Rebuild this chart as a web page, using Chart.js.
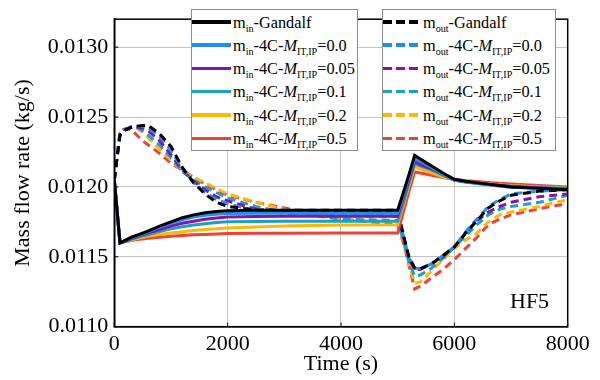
<!DOCTYPE html>
<html>
<head>
<meta charset="utf-8">
<script src="https://cdn.jsdelivr.net/npm/chart.js@4/dist/chart.umd.min.js"></script>
<style>
  html, body { margin: 0; padding: 0; background: #fff; }
  #wrap { position: relative; width: 600px; height: 380px; }
  #c { position: absolute; left: 0; top: 0; }
  .lbox { position: absolute; top: 9px; height: 142px; border: 1px solid #8c8c8c; background: #fff; box-sizing: border-box; }
  .row { position: absolute; left: 0; height: 23.33px; width: 100%; }
  .smp { position: absolute; top: 10px; height: 3.5px; }
  .txt { position: absolute; top: 0.5px; line-height: 23.33px; font-family: 'Liberation Serif', serif; font-size: 16.3px; color: #000; white-space: nowrap; }
  .txt sub { font-size: 0.62em; vertical-align: -0.35em; line-height: 0; }
  #hf5 { position: absolute; left: 510px; top: 288px; font-family: 'Liberation Serif', serif; font-size: 22px; color: #000; }
</style>
</head>
<body>
<div id="wrap">
  <canvas id="c" width="600" height="380"></canvas>
  <div class="lbox" id="legIn" style="left:191px; width:167px;"></div>
  <div class="lbox" id="legOut" style="left:382px; width:174px;"></div>
  <div id="hf5">HF5</div>
</div>
<script>
// ---- data ----
const times = [0,100,200,300,400,500,600,800,1000,1200,1400,1600,1800,2000,2500,3000,4000,5000,5100,5200,5300,5400,5600,5800,6000,6200,6400,6600,6800,7000,7500,8000];

const inGandalf = [0.01205,0.01160,0.01162,0.01164,0.011655,0.01167,0.011685,0.01172,0.01175,0.01178,0.01180,0.011815,0.011825,0.01183,0.011833,0.011833,0.011833,0.011833,0.01196,0.01209,0.012226,0.01220,0.01215,0.01210,0.012055,0.01204,0.01203,0.01202,0.01201,0.01200,0.01199,0.01198];
const in00 = [0.01205,0.01160,0.01162,0.011635,0.01165,0.011665,0.01168,0.01171,0.01174,0.011765,0.011785,0.011797,0.011805,0.01181,0.011812,0.011812,0.011812,0.011812,0.01194,0.01207,0.012203,0.01218,0.01214,0.01209,0.01205,0.012035,0.012025,0.012015,0.012005,0.011998,0.01199,0.011982];
const in005 = [0.01205,0.01160,0.011615,0.01163,0.011645,0.01166,0.011672,0.011695,0.01172,0.01174,0.011755,0.011768,0.011778,0.011785,0.011788,0.01179,0.01179,0.01179,0.01192,0.01205,0.012186,0.01216,0.01213,0.01209,0.01205,0.012035,0.012027,0.012018,0.01201,0.012003,0.011993,0.011986];
const in01 = [0.01205,0.01160,0.01161,0.011625,0.011638,0.01165,0.01166,0.01168,0.01170,0.011715,0.011727,0.011737,0.011745,0.01175,0.011753,0.011755,0.011755,0.011755,0.01189,0.01203,0.012167,0.01215,0.01212,0.012085,0.01205,0.012037,0.012028,0.01202,0.012012,0.012006,0.011996,0.01199];
const in02 = [0.01205,0.01160,0.01161,0.01162,0.01163,0.01164,0.011648,0.01166,0.01167,0.01168,0.011688,0.011695,0.01170,0.011707,0.011714,0.01172,0.011727,0.01173,0.01187,0.01201,0.012143,0.01213,0.01210,0.01207,0.01205,0.012038,0.01203,0.012023,0.012016,0.01201,0.01200,0.011994];
const in05 = [0.01205,0.01160,0.01161,0.011617,0.011623,0.011628,0.011633,0.01164,0.011647,0.011652,0.011657,0.01166,0.011663,0.011667,0.011668,0.011669,0.01167,0.01167,0.01182,0.01197,0.012107,0.01210,0.012083,0.012068,0.012055,0.012045,0.012038,0.012032,0.012026,0.012021,0.01201,0.01200];

const outGandalf = [0.01205,0.01237,0.01241,0.012425,0.012435,0.01244,0.01244,0.01238,0.01229,0.01214,0.01203,0.01195,0.01189,0.01186,0.011835,0.011833,0.011833,0.011833,0.01166,0.01150,0.01142,0.011415,0.01145,0.01151,0.01157,0.01167,0.01176,0.01185,0.01190,0.01194,0.01197,0.01198];
const out00 = [0.01205,0.01238,0.01241,0.01243,0.012435,0.012435,0.01242,0.01236,0.01226,0.01213,0.01203,0.01196,0.01191,0.01188,0.01183,0.011815,0.011812,0.011812,0.01165,0.01149,0.01142,0.011415,0.01145,0.01151,0.01157,0.01168,0.01177,0.01186,0.01191,0.01195,0.01197,0.01198];
const out005 = [0.01205,0.01238,0.01241,0.01243,0.01243,0.01242,0.01240,0.01233,0.01223,0.01212,0.01204,0.01198,0.01193,0.01190,0.01184,0.01181,0.011795,0.01179,0.01164,0.01148,0.01141,0.01141,0.01145,0.01150,0.01157,0.01167,0.01176,0.01182,0.01186,0.01189,0.01193,0.01195];
const out01 = [0.01205,0.01238,0.01241,0.01243,0.012425,0.01240,0.01237,0.01230,0.01221,0.01211,0.01205,0.01200,0.01196,0.01192,0.01186,0.01182,0.01177,0.01176,0.01162,0.01146,0.01136,0.01137,0.01142,0.01149,0.01157,0.01165,0.01173,0.01180,0.01184,0.01186,0.01189,0.01194];
const out02 = [0.01205,0.01238,0.01241,0.01243,0.01242,0.01239,0.01235,0.01227,0.01219,0.01211,0.01207,0.01203,0.01199,0.01195,0.01189,0.01184,0.01177,0.01175,0.01161,0.01145,0.01131,0.01132,0.01140,0.01148,0.01156,0.01162,0.01167,0.01175,0.01180,0.01182,0.01186,0.01191];
const out05 = [0.01205,0.01240,0.012417,0.01241,0.01237,0.01233,0.01230,0.01224,0.01217,0.01212,0.01207,0.01202,0.01198,0.01194,0.01189,0.01185,0.01177,0.01173,0.01160,0.01144,0.01127,0.01129,0.01135,0.01141,0.01148,0.01156,0.01164,0.01173,0.01177,0.01180,0.011845,0.01188];

const caseNames = ['Gandalf', '0.0', '0.05', '0.1', '0.2', '0.5'];
const colors = ['#000000', '#1e8ef0', '#8a12a8', '#1aa2c4', '#ffb700', '#ee4233'];
const xTicks = [0, 2000, 4000, 6000, 8000];
const yTicks = [0.0110, 0.0115, 0.0120, 0.0125, 0.0130];
const inSeries = [inGandalf, in00, in005, in01, in02, in05];
const outSeries = [outGandalf, out00, out005, out01, out02, out05];

const FONT = "'Liberation Serif', serif";

function buildChart() {
  const datasets = [];
  inSeries.forEach((arr, k) => datasets.push({
    label: 'm_in-' + caseNames[k],
    data: times.map((t, i) => ({ x: t, y: arr[i] })),
    borderColor: colors[k], borderWidth: 3, pointRadius: 0, tension: 0, fill: false
  }));
  outSeries.forEach((arr, k) => datasets.push({
    label: 'm_out-' + caseNames[k],
    data: times.map((t, i) => ({ x: t, y: arr[i] })),
    borderColor: colors[k], borderWidth: 3, borderDash: [8, 5], pointRadius: 0, tension: 0, fill: false
  }));

  const framePlugin = {
    id: 'frame',
    afterDraw(chart) {
      const { ctx, chartArea: a, scales } = chart;
      ctx.save();
      ctx.strokeStyle = '#000';
      ctx.lineWidth = 1.5;
      ctx.strokeRect(a.left, a.top, a.right - a.left, a.bottom - a.top);
      ctx.lineWidth = 1;
      ctx.beginPath();
      xTicks.forEach(v => { const p = scales.x.getPixelForValue(v); ctx.moveTo(p, a.bottom); ctx.lineTo(p, a.bottom - 4); });
      yTicks.forEach(v => { const p = scales.y.getPixelForValue(v); ctx.moveTo(a.left, p); ctx.lineTo(a.left + 4, p); });
      ctx.stroke();
      ctx.restore();
    }
  };

  new Chart(document.getElementById('c'), {
    type: 'line',
    data: { datasets },
    options: {
      responsive: false,
      animation: false,
      events: [],
      layout: { padding: { left: 0, top: 18.3, right: 32.3, bottom: 0 } },
      plugins: { legend: { display: false }, tooltip: { enabled: false } },
      scales: {
        x: {
          type: 'linear', min: 0, max: 8000,
          afterBuildTicks: s => { s.ticks = xTicks.map(v => ({ value: v })); },
          afterFit: s => { s.height = 53.3; },
          grid: { color: '#c4c4c4', borderDash: [1, 2], drawTicks: false, lineWidth: 1 },
          border: { display: true, color: '#000', width: 1.5 },
          ticks: { padding: 4, color: '#000', font: { family: FONT, size: 22 }, callback: v => String(v), maxRotation: 0 },
          title: { display: true, text: 'Time (s)', color: '#000', font: { family: FONT, size: 22 }, padding: { top: 0, bottom: 2.5 } }
        },
        y: {
          type: 'linear', min: 0.0110, max: 0.0132,
          afterBuildTicks: s => { s.ticks = yTicks.map(v => ({ value: v })); },
          afterFit: s => { s.width = 114.3; },
          grid: { color: '#c4c4c4', borderDash: [1, 2], drawTicks: false, lineWidth: 1 },
          border: { display: true, color: '#000', width: 1.5 },
          ticks: { padding: 6, color: '#000', font: { family: FONT, size: 22 }, callback: v => Number(v).toFixed(4) },
          title: { display: true, text: 'Mass flow rate (kg/s)', color: '#000', font: { family: FONT, size: 22 }, padding: { top: 10, bottom: 0 } }
        }
      }
    },
    plugins: [framePlugin]
  });
}

// ---- legends (HTML text) ----
function buildLegend(id, sub, dashed, textLeft, smpWidth) {
  const box = document.getElementById(id);
  caseNames.forEach((name, k) => {
    const row = document.createElement('div');
    row.className = 'row';
    row.style.top = (k * 23.33) + 'px';
    const smp = document.createElement('div');
    smp.className = 'smp';
    smp.style.left = '0px';
    smp.style.width = smpWidth + 'px';
    smp.style.background = dashed
      ? 'repeating-linear-gradient(90deg, ' + colors[k] + ' 0 9px, transparent 9px 13px)'
      : colors[k];
    const txt = document.createElement('div');
    txt.className = 'txt';
    txt.style.left = textLeft + 'px';
    txt.innerHTML = k === 0
      ? 'm<sub>' + sub + '</sub>-Gandalf'
      : 'm<sub>' + sub + '</sub>-4C-<i>M</i><sub>IT,IP</sub>=' + name;
    row.appendChild(smp);
    row.appendChild(txt);
    box.appendChild(row);
  });
}
buildLegend('legIn', 'in', false, 41, 39);
buildLegend('legOut', 'out', true, 40, 35);

Promise.all([
  document.fonts.load("22px 'Liberation Serif'"),
  document.fonts.load("italic 16px 'Liberation Serif'")
]).catch(() => {}).then(buildChart);
</script>
</body>
</html>
